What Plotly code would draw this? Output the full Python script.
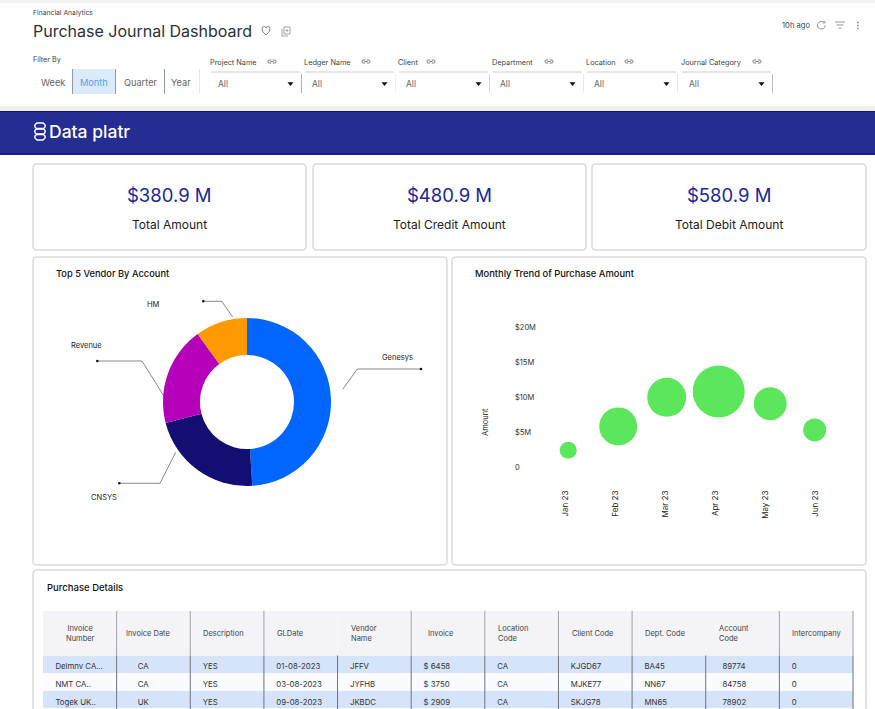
"""Purchase Journal Dashboard rebuilt as a single plotly figure."""
import plotly.graph_objects as go

W = 875
H = 709
TEXT_FONT = "Inter"
HEAD_FONT = "Inter"

kpi_values = ["$380.9 M", "$480.9 M", "$580.9 M"]
kpi_labels = ["Total Amount", "Total Credit Amount", "Total Debit Amount"]

vendor_names = ["Genesys", "CNSYS", "Revenue", "HM"]
vendor_share = [49, 22, 19, 10]
vendor_colors = ["#0066FF", "#120E72", "#B400B8", "#FF9900"]

months = ["Jan 23", "Feb 23", "Mar 23", "Apr 23", "May 23", "Jun 23"]
month_pos = [0, 1, 2, 3, 4, 5]
bubble_pos = [0.05, 1.05, 2.02, 3.06, 4.09, 4.98]
amount_m = [2.5, 5.9, 10.05, 10.9, 9.15, 5.4]
bubble_size = [17, 38, 39, 52, 33, 23]
y_ticks = [0, 5, 10, 15, 20]
y_tick_labels = ["0", "$5M", "$10M", "$15M", "$20M"]

filter_periods = ["Week", "Month", "Quarter", "Year"]
filter_names = ["Project Name", "Ledger Name", "Client", "Department", "Location", "Journal Category"]

table_headers = ["Invoice<br>Number", "Invoice Date", "Description", "GLDate", "Vendor<br>Name", "Invoice",
                 "Location<br>Code", "Client Code", "Dept. Code", "Account<br>Code", "Intercompany"]
invoice_number = ["Delmnv CA...", "NMT CA..", "Togek UK.."]
invoice_date = ["CA", "CA", "UK"]
description = ["YES", "YES", "YES"]
gl_date = ["01-08-2023", "03-08-2023", "09-08-2023"]
vendor_name = ["JFFV", "JYFHB", "JKBDC"]
invoice = ["$ 6458", "$ 3750", "$ 2909"]
location_code = ["CA", "CA", "CA"]
client_code = ["KJGD67", "MJKE77", "SKJG78"]
dept_code = ["BA45", "NN67", "MN65"]
account_code = ["89774", "84758", "78902"]
intercompany = ["0", "0", "0"]


def fx(x):
    return x / W


def fy(y):
    return 1 - y / H


def px_path(d):
    """ turn a path written in page pixels into paper coordinates """
    out = []
    is_x = True
    for tok in d.split():
        if tok.isalpha():
            out.append(tok)
            is_x = True
        elif is_x:
            out.append(f"{fx(float(tok)):.5f}")
            is_x = False
        else:
            out.append(f"{fy(float(tok)):.5f}")
            is_x = True
    return " ".join(out)


shapes = []
annotations = []


def add_path(d, fill=None, line=None, width=1, layer="below"):
    shapes.append(dict(type="path", xref="paper", yref="paper", path=px_path(d), layer=layer,
                       fillcolor=fill if fill else "rgba(0,0,0,0)",
                       line=dict(color=line if line else "rgba(0,0,0,0)", width=width if line else 0)))


def add_rect(x0, y0, x1, y1, fill, layer="below"):
    shapes.append(dict(type="rect", xref="paper", yref="paper", x0=fx(x0), x1=fx(x1), y0=fy(y0), y1=fy(y1),
                       fillcolor=fill, line=dict(width=0), layer=layer))


def add_line(x0, y0, x1, y1, color, width=1, layer="below"):
    shapes.append(dict(type="line", xref="paper", yref="paper", x0=fx(x0), x1=fx(x1), y0=fy(y0), y1=fy(y1),
                       line=dict(color=color, width=width), layer=layer))


def add_text(x, y, text, size, color="#222222", font=TEXT_FONT, anchor="left", angle=0, weight=None, align=None):
    f = dict(size=size, color=color, family=font)
    if weight:
        f["weight"] = weight
    annotations.append(dict(x=fx(x), y=fy(y), xref="paper", yref="paper", text=text, showarrow=False,
                            xanchor=anchor, yanchor="middle", font=f, textangle=angle,
                            align=align if align else anchor, borderpad=0, borderwidth=0))


def card(x0, y0, x1, y1, r=4):
    add_path(f"M {x0+r} {y0} L {x1-r} {y0} Q {x1} {y0} {x1} {y0+r} L {x1} {y1-r} Q {x1} {y1} {x1-r} {y1} "
             f"L {x0+r} {y1} Q {x0} {y1} {x0} {y1-r} L {x0} {y0+r} Q {x0} {y0} {x0+r} {y0} Z",
             fill="white", line="#DCDCDC", width=1.6)


def link_icon(x, y):
    add_path(f"M {x-0.8} {y-1.5} L {x-2.5} {y-1.5} Q {x-4} {y-1.5} {x-4} {y} Q {x-4} {y+1.5} {x-2.5} {y+1.5} "
             f"L {x-0.8} {y+1.5}", line="#555555", width=0.8)
    add_path(f"M {x+0.8} {y-1.5} L {x+2.5} {y-1.5} Q {x+4} {y-1.5} {x+4} {y} Q {x+4} {y+1.5} {x+2.5} {y+1.5} "
             f"L {x+0.8} {y+1.5}", line="#555555", width=0.8)
    add_line(x - 1.5, y, x + 1.5, y, "#555555", 0.8)


# page chrome
add_rect(0, 0, W, 3, "#F4F4F4")
add_rect(0, 106, W, 111, "#EFEFEF")
add_rect(0, 111, W, 155, "#232D92")
add_line(0, 111.5, W, 111.5, "#12128A", 1)
add_line(0, 153.8, W, 153.8, "#12128A", 1)

add_text(33, 13, "Financial Analytics", 6.8, "#444444", HEAD_FONT)
add_text(33, 31, "Purchase Journal Dashboard", 16, "#29313A", HEAD_FONT)
add_text(33, 60, "Filter By", 7.2, "#444444", HEAD_FONT)
add_text(782, 25.5, "10h ago", 7.6, "#444444", HEAD_FONT)

# heart and copy icons
add_path("M 266 35 Q 262 32 262 29 Q 262 26.5 264 26.5 Q 265.5 26.5 266 28 Q 266.5 26.5 268 26.5 "
         "Q 270 26.5 270 29 Q 270 32 266 35 Z", line="#777777", width=0.9)
add_path("M 284 27 L 290 27 L 290 34 L 284 34 Z", line="#999999", width=0.9)
add_path("M 282 29 L 282 36 L 288 36", line="#999999", width=0.9)
add_line(285.5, 30.5, 288.5, 30.5, "#999999", 0.8)
add_line(287, 29, 287, 32, "#999999", 0.8)

# refresh, filter and menu icons
add_path("M 824.5 22 Q 821 20.5 818.5 22.5 Q 816.5 25 818 27.5 Q 820.5 30 823.5 28.5 Q 825 27.5 825 25.5",
         line="#888888", width=0.9)
add_path("M 824.8 20.8 L 824.8 23 L 822.5 23", line="#888888", width=0.8)
add_line(835, 22, 845, 22, "#888888", 0.9)
add_line(836.5, 25, 843.5, 25, "#888888", 0.9)
add_line(838.5, 28, 841.5, 28, "#888888", 0.9)
for dot_y in (22.5, 25.5, 28.5):
    add_rect(857.2, dot_y - 0.7, 858.6, dot_y + 0.7, "#777777")

# period switch
add_rect(73, 69, 115, 94, "#DCEBFB")
period_x = [53, 93.5, 140, 181]
for i, name in enumerate(filter_periods):
    add_text(period_x[i], 82, name, 9.2, "#4DA3F5" if name == "Month" else "#666666", HEAD_FONT, "center")
for x in (72.5, 115.5, 164.5):
    add_line(x, 69, x, 94, "#8F9BA6", 1)
add_line(199.5, 69, 199.5, 94, "#E6E6E6", 1)

# dropdowns
filter_x = [210, 304, 398, 492, 586, 681]
link_x = [272, 366, 431, 549, 629, 757]
sep_colors = ["#AFAFAF", "#F0F0F0", "#D8D8D8", "#E8E8E8", "#E8E8E8", "#BDBDBD"]
for i, name in enumerate(filter_names):
    x = filter_x[i]
    add_text(x, 62.5, name, 7.3, "#444444", HEAD_FONT)
    link_icon(link_x[i], 61.5)
    add_line(x + 1, 72, x + 90, 72, "#CCCCCC", 1)
    add_text(x + 8, 84, "All", 8.5, "#666666", HEAD_FONT)
    add_path(f"M {x+77.5} 82.3 L {x+83.5} 82.3 L {x+80.5} 86 Z", fill="#111111")
    add_line(x + 91.5, 74, x + 91.5, 93, sep_colors[i], 1)

# logo
for logo_y in (126, 131.5, 137):
    add_path(f"M 37 {logo_y-3} L 43 {logo_y-3} Q 47.5 {logo_y} 43 {logo_y+3} L 37 {logo_y+3} "
             f"Q 32.5 {logo_y} 37 {logo_y-3} Z", line="white", width=1.5)
add_text(48.5, 132, "Data platr", 17.5, "white", HEAD_FONT, weight=500)

# cards
kpi_cards = [(33, 306), (313, 586), (592, 866)]
for i, (x0, x1) in enumerate(kpi_cards):
    card(x0, 164, x1, 250)
    mid = (x0 + x1) / 2
    add_text(mid, 195, kpi_values[i], 18.5, "#19289A", HEAD_FONT, "center")
    add_text(mid, 225, kpi_labels[i], 12, "#222222", HEAD_FONT, "center")
card(33, 257, 447, 565)
card(452, 257, 866, 565)
card(33, 570, 866, 730)

add_text(56, 273.5, "Top 5 Vendor By Account", 9.3, "#111111", weight=500)
add_text(475, 273.5, "Monthly Trend of Purchase Amount", 9.4, "#111111", weight=500)
add_text(46.5, 587, "Purchase Details", 9.5, "#111111", weight=500)

# donut leader lines and labels
leaders = {
    "Genesys": ("M 342.7 389.3 L 357.3 369 L 421 369", (421, 369), (397.3, 357.7)),
    "Revenue": ("M 165.3 398.3 L 142 361 L 97.3 361", (97.3, 361), (86.7, 345)),
    "HM": ("M 232.7 317 L 221.7 301.3 L 203.3 301.3", (203.3, 301.3), (153.3, 304)),
    "CNSYS": ("M 175.7 452.3 L 160 483.3 L 119.3 483.3", (119.3, 483.3), (104, 497)),
}
for name in vendor_names:
    d, dot, label = leaders[name]
    add_path(d, line="#555555", width=0.7, layer="above")
    shapes.append(dict(type="circle", xref="paper", yref="paper", x0=fx(dot[0] - 1.3), x1=fx(dot[0] + 1.3),
                       y0=fy(dot[1] + 1.3), y1=fy(dot[1] - 1.3), fillcolor="#111111", line=dict(width=0)))
    add_text(label[0], label[1], name, 7.5, "#222222", anchor="center")

add_text(485, 422, "Amount", 7.5, "#222222", anchor="center", angle=-90)

fig = go.Figure()

fig.add_trace(go.Pie(
    labels=vendor_names, values=vendor_share, hole=0.56, sort=False, direction="clockwise", rotation=0,
    marker=dict(colors=vendor_colors, line=dict(width=0)), textinfo="none", showlegend=False,
    domain=dict(x=[fx(163), fx(331)], y=[fy(486), fy(318)]),
))

fig.add_trace(go.Scatter(
    x=bubble_pos, y=amount_m, mode="markers", showlegend=False,
    marker=dict(size=bubble_size, sizemode="diameter", sizeref=1, color="#5CE65C", line=dict(width=0), opacity=1),
))

columns = [invoice_number, invoice_date, description, gl_date, vendor_name, invoice,
           location_code, client_code, dept_code, account_code, intercompany]
# plotly has a fixed cell pad, so nudge the text with no-break spaces
cell_nudge = [2, 6, 2, 2, 2, 2, 2, 2, 2, 4, 2]
cell_values = [["\u00a0" * n + v for v in col] for n, col in zip(cell_nudge, columns)]

# table header text is top aligned in plotly, so it sits on top as annotations
head_x = [80, 126, 203, 277, 351, 428, 498, 572, 645, 719, 792]
for i, head in enumerate(table_headers):
    add_text(head_x[i], 633.5, head, 7.5, "#444444", anchor="center" if i == 0 else "left")

fig.add_trace(go.Table(
    domain=dict(x=[fx(43), fx(853)], y=[0, fy(611)]),
    columnwidth=[1] * 11,
    header=dict(values=[""] * 11, fill_color="#F3F3F8", line_width=0, height=44.5),
    cells=dict(values=cell_values, line_width=0, align="left", height=17.6,
               fill_color=[["#D5E4FB", "#FAFBFE", "#D5E4FB"]] * 11,
               font=dict(family=TEXT_FONT, size=7.8, color="#333333")),
))

col_step = (853 - 43) / 11
for i in range(1, 12):
    x = 43 + col_step * i
    if i not in (4, 9):
        add_line(x, 611, x, 655.5, "#A0A0A6", 1, layer="above")
    add_line(x, 655.5, x, 709, "#6F7378", 1, layer="above")

fig.update_layout(
    width=W, height=H, autosize=False, margin=dict(l=0, r=0, t=0, b=0, pad=0),
    paper_bgcolor="white", plot_bgcolor="rgba(0,0,0,0)", showlegend=False,
    shapes=shapes, annotations=annotations,
    xaxis=dict(domain=[fx(512), fx(860)], range=[(512 - 565.7) / 50, (860 - 565.7) / 50],
               tickmode="array", tickvals=month_pos, ticktext=months, tickangle=-90,
               showgrid=False, zeroline=False, showline=False, ticks="",
               tickfont=dict(family=TEXT_FONT, size=8, color="#222222")),
    yaxis=dict(domain=[fy(488), fy(300)], range=[(467.7 - 488) / 7, (467.7 - 300) / 7],
               tickmode="array", tickvals=y_ticks, ticktext=y_tick_labels, ticklabelposition="inside",
               showgrid=False, zeroline=False, showline=False, ticks="",
               tickfont=dict(family=TEXT_FONT, size=7.5, color="#333333")),
)

fig.write_html("out.html", config=dict(displayModeBar=False),
               post_script="document.body.style.margin='0';document.body.style.overflow='hidden';")
